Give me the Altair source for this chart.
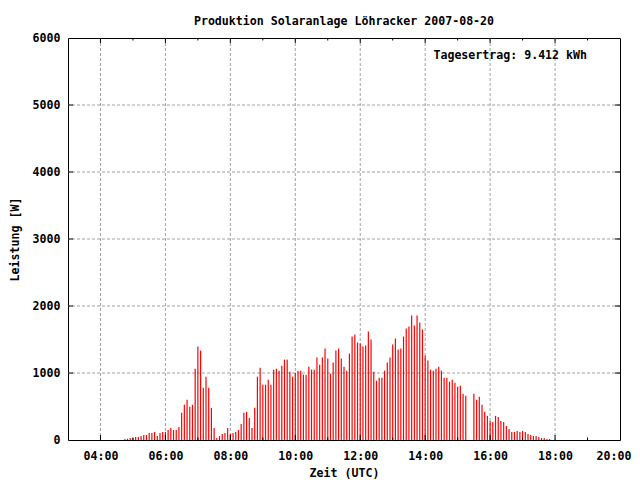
import altair as alt
import pandas as pd

# ---- data (5-minute readings, W) ----
start_hour = 4.75          # first reading at 04:45 UTC
step_minutes = 5
power_early = [15, 20, 30, 30, 45, 45, 60, 75, 75, 105, 105, 120,          # 04:45-05:40
               60, 105, 120, 120, 150, 180, 150, 150, 195, 405, 525, 600,  # 05:45-06:40
               495, 525, 1065, 1395, 1335, 780, 945, 780, 480, 180, 30, 60,  # 06:45-07:40
               90, 105, 180, 90, 105, 120, 150, 240, 405, 420, 330, 180]     # 07:45-08:40
power_mid = [480, 945, 1080, 825, 825, 900, 825, 1050, 1065, 1035, 1110, 1200,   # 08:45-09:40
             1200, 1020, 945, 1005, 1035, 1035, 975, 975, 1095, 1050, 1050, 1230,  # 09:45-10:40
             1125, 1230, 1365, 1215, 990, 1155, 1335, 1365, 1215, 1095, 1035, 1290,  # 10:45-11:40
             1545, 1575, 1455, 1440, 1395, 1410, 1620, 1500, 1020, 885, 930, 930]    # 11:45-12:40
power_late = [1035, 1155, 1230, 1425, 1515, 1350, 1365, 1545, 1665, 1695, 1860, 1710,  # 12:45-13:40
              1860, 1755, 1650, 1260, 1185, 1050, 1035, 1065, 1095, 1035, 930, 930,   # 13:45-14:40
              870, 900, 855, 795, 810, 690, 660, None, None, 690, 600, 645,           # 14:45-15:40
              525, 420, 360, 285, 270, 360, 345, 285, 270, 210, 165, 120,             # 15:45-16:40
              120, 135, 120, 135, 120, 90, 75, 60, 60, 45, 30, 30,                    # 16:45-17:40
              15, 15]                                                                # 17:45-17:50
power = power_early + power_mid + power_late

label_hours = [4, 6, 8, 10, 12, 14, 16, 18, 20]
grid_hours = [4, 6, 8, 10, 12, 14, 16, 18]
minor_hours = [5, 7, 9, 11, 13, 15, 17, 19]
y_ticks = [0, 1000, 2000, 3000, 4000, 5000, 6000]
grid_w = [1000, 2000, 3000, 4000, 5000]

title_text = "Produktion Solaranlage Löhracker 2007-08-20"
note_text = "Tagesertrag: 9.412 kWh"

W, H = 552, 402
FONT = "DejaVu Sans Mono"
FS = 11.6

rows = []
for i, p in enumerate(power):
    if p is not None:
        rows.append({"h": start_hour + i * step_minutes / 60.0, "w": p})
df = pd.DataFrame(rows)

xscale = alt.Scale(domain=[3, 20], nice=False, zero=False)
yscale = alt.Scale(domain=[0, 6000], nice=False)

xaxis = alt.Axis(values=label_hours, grid=False, ticks=False, domain=False,
                 labelExpr="(datum.value < 10 ? '0' : '') + datum.value + ':00'",
                 labelFont=FONT, labelFontSize=FS, labelFontWeight="bold", labelColor="black",
                 labelPadding=10, labelFlush=True, labelFlushOffset=11, labelOverlap=False,
                 title="Zeit (UTC)", titleFont=FONT, titleFontSize=FS, titleFontWeight="bold",
                 titleColor="black", titleX=276, titleY=33, titleBaseline="middle", titleAlign="center")
yaxis = alt.Axis(values=y_ticks, grid=False, ticks=False, domain=False, format="d",
                 labelFont=FONT, labelFontSize=FS, labelFontWeight="bold", labelColor="black",
                 labelPadding=8, labelBaseline="middle", labelFlush=False,
                 title="Leistung [W]", titleFont=FONT, titleFontSize=FS, titleFontWeight="bold",
                 titleColor="black", titleX=-53, titleY=201, titleAngle=270,
                 titleBaseline="middle", titleAlign="center")

grid_color = "#a0a0a0"

vgrid = alt.Chart(pd.DataFrame({"h": grid_hours})).mark_rule(
    color=grid_color, strokeDash=[3, 2], strokeWidth=1
).encode(x=alt.X("h:Q", scale=xscale, axis=xaxis))

hgrid = alt.Chart(pd.DataFrame({"w": grid_w})).mark_rule(
    color=grid_color, strokeDash=[3, 2], strokeWidth=1
).encode(y=alt.Y("w:Q", scale=yscale, axis=yaxis))

bars = alt.Chart(df).mark_rule(color="#ff0000", strokeWidth=1.2).encode(
    x=alt.X("h:Q", scale=xscale),
    y=alt.Y("w:Q", scale=yscale),
    y2=alt.datum(0),
)

major_df = pd.DataFrame({"h": grid_hours})
minor_df = pd.DataFrame({"h": minor_hours})
ytick_df = pd.DataFrame({"w": grid_w})

tick_bottom_major = alt.Chart(major_df).mark_rule(color="black").encode(
    x=alt.X("h:Q", scale=xscale), y=alt.value(H), y2=alt.value(H - 5))
tick_top_major = alt.Chart(major_df).mark_rule(color="black").encode(
    x=alt.X("h:Q", scale=xscale), y=alt.value(0), y2=alt.value(5))
tick_bottom_minor = alt.Chart(minor_df).mark_rule(color="black").encode(
    x=alt.X("h:Q", scale=xscale), y=alt.value(H), y2=alt.value(H - 2.5))
tick_top_minor = alt.Chart(minor_df).mark_rule(color="black").encode(
    x=alt.X("h:Q", scale=xscale), y=alt.value(0), y2=alt.value(2.5))
tick_left = alt.Chart(ytick_df).mark_rule(color="black").encode(
    y=alt.Y("w:Q", scale=yscale), x=alt.value(0), x2=alt.value(5))
tick_right = alt.Chart(ytick_df).mark_rule(color="black").encode(
    y=alt.Y("w:Q", scale=yscale), x=alt.value(W), x2=alt.value(W - 5))

note = alt.Chart(pd.DataFrame({"t": [note_text]})).mark_text(
    font=FONT, fontSize=FS, fontWeight="bold", color="black", align="right", baseline="middle"
).encode(x=alt.value(519), y=alt.value(18), text="t:N")

chart = alt.layer(
    vgrid, hgrid, bars,
    tick_bottom_major, tick_top_major, tick_bottom_minor, tick_top_minor,
    tick_left, tick_right, note,
).properties(
    width=W, height=H,
    title=alt.TitleParams(title_text, font=FONT, fontSize=FS, fontWeight="bold",
                          color="black", anchor="middle", offset=4),
    autosize=alt.AutoSizeParams(type="none"),
    padding={"left": 60, "top": 30, "right": 12, "bottom": 40},
    background="white",
).configure_view(stroke="black", strokeWidth=1)

chart.save("out.html", embed_options={"renderer": "svg", "actions": False})
